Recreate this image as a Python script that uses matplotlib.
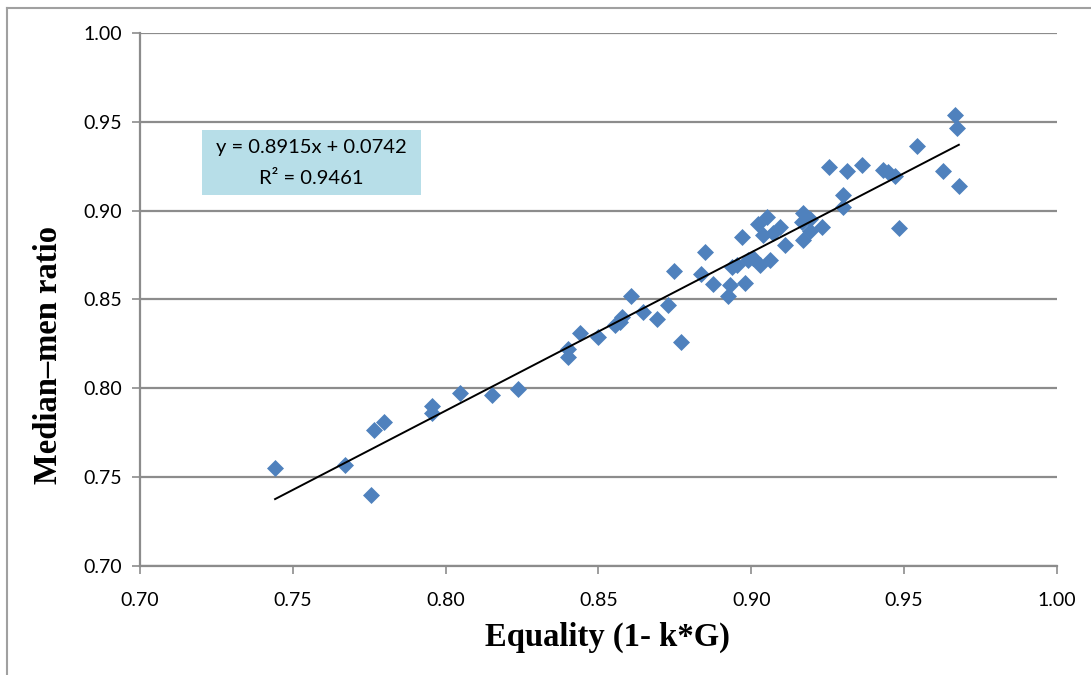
import matplotlib
matplotlib.use("Agg")
import matplotlib.pyplot as plt
import matplotlib.patches as patches
import numpy as np

# Equality (1 - k*G) vs median-men ratio
equality = [0.7442, 0.7671, 0.7756, 0.7765, 0.7798, 0.7955, 0.7955, 0.8047, 0.8151, 0.8237,
            0.8400, 0.8400, 0.8439, 0.8498, 0.8554, 0.8570, 0.8577, 0.8606, 0.8645, 0.8691,
            0.8727, 0.8747, 0.8770, 0.8835, 0.8848, 0.8874, 0.8923, 0.8930, 0.8937, 0.8953,
            0.8969, 0.8979, 0.8989, 0.9005, 0.9028, 0.9022, 0.9051, 0.9038, 0.9061, 0.9071,
            0.9094, 0.9110, 0.9169, 0.9166, 0.9169, 0.9192, 0.9192, 0.9231, 0.9300, 0.9300,
            0.9254, 0.9313, 0.9362, 0.9431, 0.9447, 0.9470, 0.9542, 0.9627, 0.9679, 0.9666,
            0.9673, 0.9483]
median_ratio = [0.7552, 0.7569, 0.7400, 0.7766, 0.7811, 0.7901, 0.7862, 0.7974, 0.7963, 0.7997,
                0.8222, 0.8177, 0.8312, 0.8289, 0.8357, 0.8374, 0.8402, 0.8520, 0.8430, 0.8391,
                0.8469, 0.8661, 0.8261, 0.8644, 0.8768, 0.8588, 0.8520, 0.8582, 0.8683, 0.8694,
                0.8852, 0.8593, 0.8723, 0.8734, 0.8694, 0.8925, 0.8965, 0.8863, 0.8723, 0.8875,
                0.8908, 0.8807, 0.8987, 0.8936, 0.8835, 0.8953, 0.8886, 0.8908, 0.9088, 0.9021,
                0.9246, 0.9223, 0.9257, 0.9229, 0.9218, 0.9195, 0.9364, 0.9223, 0.9139, 0.9539,
                0.9465, 0.8903]

# trendline as printed on the chart
slope = 0.8915
intercept = 0.0742
r2 = 0.9461

ticks = [0.70, 0.75, 0.80, 0.85, 0.90, 0.95, 1.00]

grey = "#8c8c8c"
blue = "#4f81bd"

fig = plt.figure(figsize=(10.91, 6.75), dpi=100)
ax = fig.add_axes([0.1283, 0.1615, 0.8405, 0.7896])

# outer chart frame (only top and left visible)
fig.add_artist(plt.Line2D([7 / 1091, 1.0], [1 - 8 / 675, 1 - 8 / 675], color="#a0a0a0", lw=1.5,
                          transform=fig.transFigure))
fig.add_artist(plt.Line2D([7 / 1091, 7 / 1091], [1 - 8 / 675, 0], color="#a0a0a0", lw=1.5,
                          transform=fig.transFigure))

ax.set_xlim(0.70, 1.00)
ax.set_ylim(0.70, 1.00)
ax.set_xticks(ticks)
ax.set_yticks(ticks)
ax.set_xticklabels([f"{t:.2f}" for t in ticks])
ax.set_yticklabels([f"{t:.2f}" for t in ticks])
ax.yaxis.grid(True, color=grey, lw=1.6)
ax.set_axisbelow(True)

for side in ["top", "right"]:
    ax.spines[side].set_visible(False)
for side in ["left", "bottom"]:
    ax.spines[side].set_color(grey)
    ax.spines[side].set_linewidth(1.6)

ax.tick_params(axis="both", colors=grey, length=6, width=1.2, direction="out",
               labelcolor="black", labelsize=14)
ax.tick_params(axis="x", pad=13)
ax.tick_params(axis="y", pad=7)
for lbl in ax.get_xticklabels() + ax.get_yticklabels():
    lbl.set_fontfamily("Lato")

ax.scatter(equality, median_ratio, marker="D", s=75, color=blue, zorder=3, linewidths=0)

xs = np.array([min(equality), max(equality)])
ax.plot(xs, slope * xs + intercept, color="black", lw=1.4, zorder=4)

ax.set_xlabel("Equality (1- k*G)", fontfamily="Liberation Serif", fontweight="bold",
              fontsize=23.5)
ax.set_ylabel("Median–men ratio", fontfamily="Liberation Serif", fontweight="bold",
              fontsize=23.5)
ax.xaxis.set_label_coords(0.51, -0.105)
ax.yaxis.set_label_coords(-0.083, 0.395)

# equation box
box = patches.Rectangle((202 / 1091, 1 - 195 / 675), 219 / 1091, 65 / 675,
                        transform=fig.transFigure, facecolor="#b7dee8", edgecolor="none")
fig.add_artist(box)
fig.text(311 / 1091, 1 - 147 / 675, f"y = {slope}x + {intercept:.4f}", ha="center", va="center",
         fontfamily="Lato", fontsize=14.5)
fig.text(311 / 1091, 1 - 178 / 675, f"R² = {r2}", ha="center", va="center",
         fontfamily="Lato", fontsize=14.5)

fig.savefig("out.png", dpi=100)
